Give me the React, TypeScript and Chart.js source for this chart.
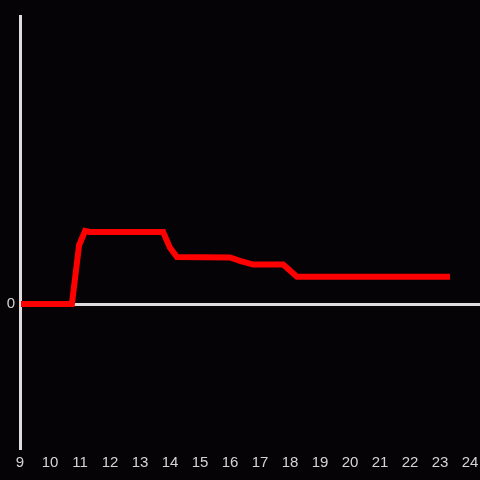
import React, { useEffect, useRef } from "react";
import { Chart, registerables } from "chart.js";

Chart.register(...registerables);

const xValues: number[] = [9, 10.73, 10.97, 11.17, 11.33, 13.77, 14.0, 14.23, 16.0, 16.33, 16.77, 17.77, 18.23, 23.33];
const yValues: number[] = [0, 0, 0.41, 0.507, 0.5, 0.5, 0.39, 0.326, 0.323, 0.3, 0.274, 0.274, 0.19, 0.19];
const xTicks: number[] = [9, 10, 11, 12, 13, 14, 15, 16, 17, 18, 19, 20, 21, 22, 23, 24];
const yTicks: number[] = [0];
const xRange: number[] = [9, 24.33];
const yRange: number[] = [-1, 2];

export default function App() {
  const ref = useRef<HTMLCanvasElement | null>(null);

  useEffect(() => {
    document.body.style.margin = "0";
    document.body.style.background = "#050306";
    const canvas = ref.current;
    if (!canvas) return;
    const points = xValues.map((x, i) => ({ x, y: yValues[i] }));
    const chart = new Chart(canvas, {
      type: "line",
      data: {
        datasets: [
          {
            data: points,
            borderColor: "#ff0000",
            borderWidth: 6,
            pointRadius: 0,
            tension: 0,
            fill: false,
            clip: { left: -1, top: false, right: false, bottom: false } as any,
          },
        ],
      },
      options: {
        animation: false,
        responsive: false,
        maintainAspectRatio: false,
        layout: { padding: { top: 16, left: 0, right: 0, bottom: 0 } },
        plugins: { legend: { display: false }, tooltip: { enabled: false } },
        scales: {
          x: {
            type: "linear",
            min: xRange[0],
            max: xRange[1],
            afterBuildTicks: (scale: any) => {
              scale.ticks = xTicks.map((v) => ({ value: v }));
            },
            grid: { display: false, drawTicks: false },
            border: { display: false },
            ticks: {
              color: "#d4d4d4",
              padding: 6,
              maxRotation: 0,
              autoSkip: false,
              font: { family: "Liberation Sans", size: 15 },
              callback: (v: any) => String(v),
            },
            afterFit: (scale: any) => {
              scale.height = 32;
              scale.paddingLeft = 0;
              scale.paddingRight = 0;
            },
          },
          y: {
            type: "linear",
            min: yRange[0],
            max: yRange[1],
            afterBuildTicks: (scale: any) => {
              scale.ticks = yTicks.map((v) => ({ value: v }));
            },
            grid: {
              drawTicks: false,
              color: "#dddddd",
              lineWidth: 3,
            },
            border: { display: true, color: "#dddddd", width: 3 },
            ticks: {
              color: "#d4d4d4",
              padding: 5,
              font: { family: "Liberation Sans", size: 15 },
            },
            afterFit: (scale: any) => {
              scale.width = 20;
            },
          },
        },
      },
    });
    return () => chart.destroy();
  }, []);

  return (
    <canvas
      ref={ref}
      width={480}
      height={480}
      style={{ position: "fixed", left: 0, top: 0, width: 480, height: 480, background: "#050306", display: "block" }}
    />
  );
}
